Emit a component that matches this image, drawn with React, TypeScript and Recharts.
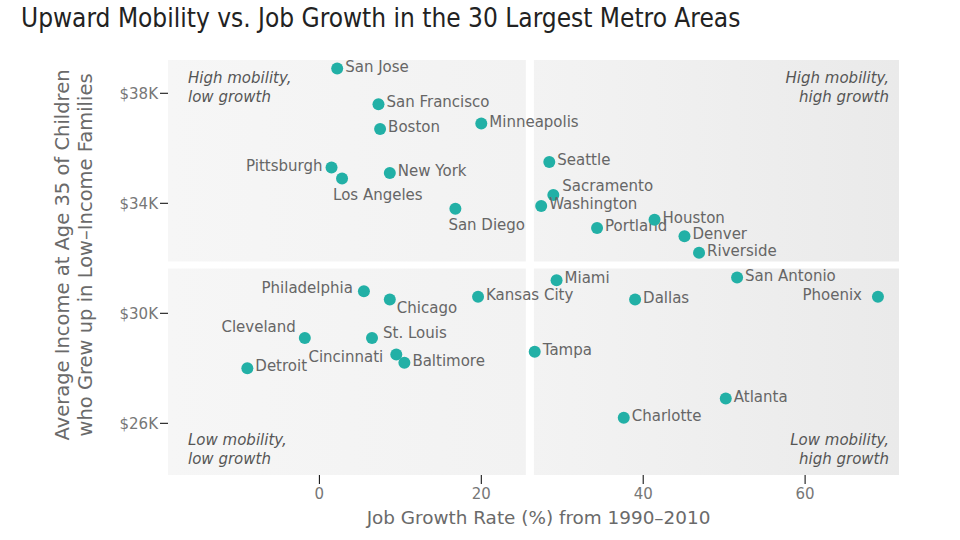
import React from 'react';
import {
  ScatterChart,
  Scatter,
  XAxis,
  YAxis,
  ReferenceArea,
  ReferenceLine,
} from 'recharts';

// job growth (%) 1990-2010, avg income at 35 ($K)
const CITIES = [
  'San Jose', 'San Francisco', 'Boston', 'Minneapolis', 'Pittsburgh',
  'Los Angeles', 'New York', 'San Diego', 'Seattle', 'Sacramento',
  'Washington', 'Portland', 'Houston', 'Denver', 'Riverside',
  'Philadelphia', 'Chicago', 'Kansas City', 'Cleveland', 'St. Louis',
  'Cincinnati', 'Baltimore', 'Detroit', 'Miami', 'San Antonio',
  'Phoenix', 'Dallas', 'Tampa', 'Atlanta', 'Charlotte',
];
const JOB_GROWTH = [
  2.2, 7.3, 7.5, 20.0, 1.5,
  2.8, 8.7, 16.8, 28.4, 28.9,
  27.4, 34.3, 41.4, 45.1, 46.9,
  5.5, 8.7, 19.6, -1.8, 6.5,
  9.5, 10.5, -8.9, 29.3, 51.6,
  69.0, 39.0, 26.6, 50.2, 37.6,
];
const INCOME = [
  38.9, 37.6, 36.7, 36.9, 35.3,
  34.9, 35.1, 33.8, 35.5, 34.3,
  33.9, 33.1, 33.4, 32.8, 32.2,
  30.8, 30.5, 30.6, 29.1, 29.1,
  28.5, 28.2, 28.0, 31.2, 31.3,
  30.6, 30.5, 28.6, 26.9, 26.2,
];
const X_TICKS = [0, 20, 40, 60];
const Y_TICKS = [26, 30, 34, 38];
const X_DOMAIN = [-18.7, 71.6];
const Y_DOMAIN = [24.12, 39.21];
const X_SPLIT = 26;
const Y_SPLIT = 31.76;

const data = CITIES.map((name, i) => ({ name, x: JOB_GROWTH[i], y: INCOME[i] }));

// label placement relative to the dot: [dx, dy, anchor]
const LABEL_POS: Record<string, [number, number, string]> = {
  Pittsburgh: [-9, 3, 'end'],
  'Los Angeles': [-9, 21, 'start'],
  'San Diego': [-7, 21, 'start'],
  Sacramento: [9, -4, 'start'],
  Philadelphia: [-11, 2, 'end'],
  Chicago: [7, 13, 'start'],
  Cleveland: [-9, -6, 'end'],
  'St. Louis': [11, 0, 'start'],
  Cincinnati: [-13, 7, 'end'],
  Phoenix: [-16, 3, 'end'],
};

const FONT = '"DejaVu Sans", Verdana, sans-serif';
const TEAL = '#22b0a6';
const LABEL_GREY = '#666';

function CityDot(props: any) {
  const { cx, cy, payload } = props;
  const [dx, dy, anchor] = LABEL_POS[payload.name] || [8, 3, 'start'];
  return (
    <g>
      <circle cx={cx} cy={cy} r={6} fill={TEAL} />
      <text
        x={cx + dx}
        y={cy + dy}
        textAnchor={anchor}
        fontFamily={FONT}
        fontSize={15}
        fill={LABEL_GREY}
      >
        {payload.name}
      </text>
    </g>
  );
}

function QuadrantLabel({ viewBox, lines, align }: any) {
  const { x, y, width, height } = viewBox;
  const right = align.includes('right');
  const bottom = align.includes('bottom');
  const tx = right ? x + width - 10 : x + 20;
  const ty = bottom ? y + height - 30 : y + 23;
  return (
    <text
      x={tx}
      y={ty}
      textAnchor={right ? 'end' : 'start'}
      fontFamily={FONT}
      fontStyle="italic"
      fontSize={15}
      fill="#555"
    >
      <tspan x={tx} dy={0}>{lines[0]}</tspan>
      <tspan x={tx} dy={19}>{lines[1]}</tspan>
    </text>
  );
}

function YTitle() {
  const cy = 255;
  return (
    <g fontFamily={FONT} fontSize={19.5} fill="#6a6a6a" textAnchor="middle">
      <text transform={`translate(69, ${cy}) rotate(-90)`}>
        Average Income at Age 35 of Children
      </text>
      <text transform={`translate(92, ${cy}) rotate(-90)`}>
        who Grew up in Low–Income Families
      </text>
    </g>
  );
}

function XTitle({ viewBox }: any) {
  const { x, width } = viewBox;
  return (
    <text
      x={x + width / 2 + 5}
      y={524}
      textAnchor="middle"
      fontFamily={FONT}
      fontSize={18.4}
      fill="#6a6a6a"
    >
      Job Growth Rate (%) from 1990–2010
    </text>
  );
}

export default function App() {
  return (
    <div
      style={{
        position: 'absolute',
        left: 0,
        top: 0,
        width: 960,
        height: 540,
        background: '#fff',
      }}
    >
      <div
        style={{
          position: 'absolute',
          left: 21,
          top: 3,
          fontFamily: '"DejaVu Sans Condensed", "DejaVu Sans", sans-serif',
          fontStretch: 'condensed',
          fontSize: 26,
          color: '#222',
          whiteSpace: 'nowrap',
        }}
      >
        Upward Mobility vs. Job Growth in the 30 Largest Metro Areas
      </div>
      <ScatterChart
        width={960}
        height={540}
        margin={{ top: 60, right: 61, bottom: 20, left: 0 }}
      >
        <defs>
          <linearGradient id="qLeft" x1="0" y1="0" x2="1" y2="0">
            <stop offset="0%" stopColor="#f6f6f6" />
            <stop offset="100%" stopColor="#f2f2f2" />
          </linearGradient>
          <linearGradient id="qRight" x1="0" y1="0" x2="1" y2="0">
            <stop offset="0%" stopColor="#f3f3f3" />
            <stop offset="100%" stopColor="#eaeaea" />
          </linearGradient>
        </defs>
        <XAxis
          type="number"
          dataKey="x"
          domain={X_DOMAIN}
          ticks={X_TICKS}
          allowDataOverflow
          axisLine={false}
          tickLine={{ stroke: '#000' }}
          tickSize={9}
          tickMargin={4}
          height={45}
          tick={{ fill: '#777', fontSize: 15, fontFamily: FONT }}
          label={{ content: <XTitle /> }}
        />
        <YAxis
          type="number"
          dataKey="y"
          domain={Y_DOMAIN}
          ticks={Y_TICKS}
          allowDataOverflow
          axisLine={false}
          tickLine={{ stroke: '#000' }}
          tickSize={8}
          tickMargin={2}
          width={168}
          tickFormatter={(v: number) => `$${v}K`}
          tick={{ fill: '#777', fontSize: 15, fontFamily: FONT }}
          label={{ content: <YTitle /> }}
        />
        <ReferenceArea
          x1={X_DOMAIN[0]} x2={X_SPLIT} y1={Y_SPLIT} y2={Y_DOMAIN[1]}
          fill="url(#qLeft)" fillOpacity={1}
          label={{ content: <QuadrantLabel lines={['High mobility,', 'low growth']} align="top-left" /> }}
        />
        <ReferenceArea
          x1={X_SPLIT} x2={X_DOMAIN[1]} y1={Y_SPLIT} y2={Y_DOMAIN[1]}
          fill="url(#qRight)" fillOpacity={1}
          label={{ content: <QuadrantLabel lines={['High mobility,', 'high growth']} align="top-right" /> }}
        />
        <ReferenceArea
          x1={X_DOMAIN[0]} x2={X_SPLIT} y1={Y_DOMAIN[0]} y2={Y_SPLIT}
          fill="url(#qLeft)" fillOpacity={1}
          label={{ content: <QuadrantLabel lines={['Low mobility,', 'low growth']} align="bottom-left" /> }}
        />
        <ReferenceArea
          x1={X_SPLIT} x2={X_DOMAIN[1]} y1={Y_DOMAIN[0]} y2={Y_SPLIT}
          fill="url(#qRight)" fillOpacity={1}
          label={{ content: <QuadrantLabel lines={['Low mobility,', 'high growth']} align="bottom-right" /> }}
        />
        <ReferenceLine x={X_SPLIT} stroke="#fff" strokeWidth={8} />
        <ReferenceLine y={Y_SPLIT} stroke="#fff" strokeWidth={7} />
        <Scatter data={data} shape={<CityDot />} isAnimationActive={false} />
      </ScatterChart>
    </div>
  );
}
